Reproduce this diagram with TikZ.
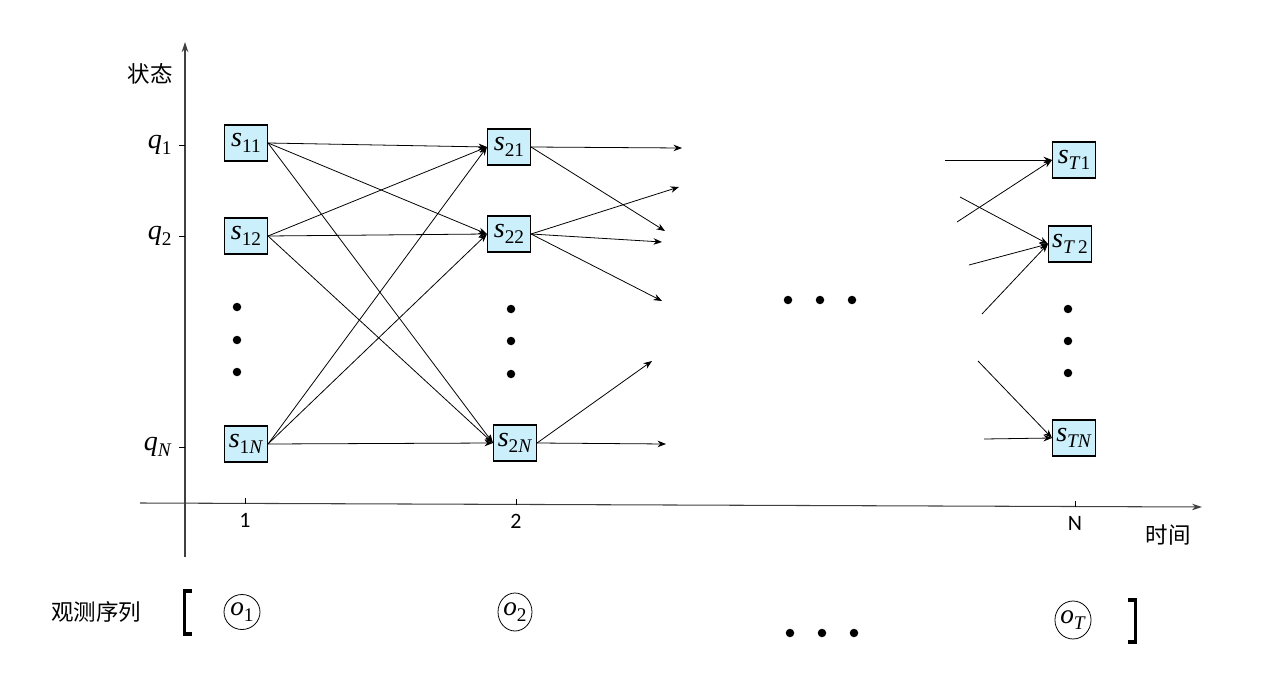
\documentclass[tikz,border=0pt]{standalone}
\usepackage{fontspec}
\newfontfamily\tms{Liberation Serif}
\newfontfamily\crl{Carlito}
\newfontfamily\cjk{Noto Sans CJK SC}
\usetikzlibrary{arrows.meta,shapes.geometric}
\newcommand{\sv}[2]{{\tms\itshape #1}{\tms\raisebox{-0.45ex}{\fontsize{11}{12}\selectfont #2}}}
\begin{document}
\begin{tikzpicture}[x=0.02cm,y=-0.02cm,
  st/.style={draw,fill=cyan!20,line width=0.6pt,minimum width=0.86cm,minimum height=0.72cm,inner sep=0pt,font=\tms\fontsize{16}{18}\selectfont},
  tr/.style={line width=0.45pt,-{Stealth[length=1.7mm,width=1.3mm]}},
  ax/.style={line width=0.6pt,draw=black!75,-{Stealth[length=2mm,width=1.3mm]}},
  dt/.style={circle,fill=black,inner sep=0pt,minimum size=0.17cm},
  obs/.style={ellipse,draw,line width=0.45pt,inner sep=0pt,minimum width=0.72cm,minimum height=0.70cm,font=\tms\fontsize{15.5}{17}\selectfont},
  lab/.style={font=\crl\fontsize{12.5}{14}\selectfont},
  cj/.style={font=\cjk\fontsize{12.8}{14}\selectfont},
  brk/.style={line width=1.8pt}]
\useasboundingbox (0,0) rectangle (1265,696);
% axes
\coordinate (ya0) at (185,557);
\coordinate (ya1) at (185,42);
\coordinate (xa0) at (140,503);
\coordinate (xa1) at (1202,507);
\draw[ax] (ya0) -- (ya1);
\draw[ax] (xa0) -- (xa1);
\node[cj] (zt) at (150,74) {状态};
\node[cj] (sj) at (1168,535) {时间};
% q ticks
\foreach \n/\y/\t in {q1/145/1,q2/236/2,qN/447/\textit{N}}{
  \coordinate (\n a) at (179,\y);
  \coordinate (\n b) at (185,\y);
  \draw[line width=0.5pt] (\n a) -- (\n b);
  \node[anchor=east,inner sep=0pt,font=\tms\fontsize{16}{18}\selectfont] (\n l) at (172,\y) {\sv{q}{\t}};
}
% t ticks
\foreach \n/\x/\t/\yy in {t1/245/1/504,t2/516/2/505,tN/1075/N/507}{
  \coordinate (\n a) at (\x,\yy);
  \coordinate (\n b) at (\x,\yy-6);
  \draw[line width=0.5pt] (\n a) -- (\n b);
  \node[lab] (\n l) at (\x,\yy+16) {\t};
}
% state boxes
\node[st] (s11) at (246,143) {\sv{s}{11}};
\node[st] (s12) at (246,236) {\sv{s}{12}};
\node[st] (s1N) at (246,444) {\sv{s}{1\textit{N}}};
\node[st] (s21) at (509,147) {\sv{s}{21}};
\node[st] (s22) at (509,234) {\sv{s}{22}};
\node[st] (s2N) at (515,443) {\sv{s}{2\textit{N}}};
\node[st] (sT1) at (1074,160) {\sv{s}{\textit{T}1}};
\node[st] (sT2) at (1070,244) {\sv{s}{\textit{T}\,2}};
\node[st] (sTN) at (1074,438) {\sv{s}{\textit{TN}}};
% dots
\foreach \i/\x/\y in {a1/237/307,a2/237/340,a3/237/372,b1/511/309,b2/511/341,b3/511/374,c1/1068/309,c2/1068/341,c3/1068/373,m1/788/300,m2/820/300,m3/852/300,o1/790/633,o2/822/633,o3/854/633}
  \node[dt] (d\i) at (\x,\y) {};
% full transitions 1 -> 2
\foreach \a in {s11,s12,s1N}
  \foreach \b in {s21,s22,s2N}
    \draw[tr] (\a.east) -- (\b.west);
% outgoing from column 2
\coordinate (e1) at (682,148);
\coordinate (e2) at (665,231);
\coordinate (e3) at (679,187);
\coordinate (e4) at (662,242);
\coordinate (e5) at (662,301);
\coordinate (e6) at (652,361);
\coordinate (e7) at (666,444);
\draw[tr] (s21.east) -- (e1);
\draw[tr] (s21.east) -- (e2);
\draw[tr] (s22.east) -- (e3);
\draw[tr] (s22.east) -- (e4);
\draw[tr] (s22.east) -- (e5);
\draw[tr] (s2N.east) -- (e6);
\draw[tr] (s2N.east) -- (e7);
% incoming to column T
\coordinate (f1) at (945,160);
\coordinate (f2) at (957,222);
\coordinate (f3) at (960,197);
\coordinate (f4) at (969,265);
\coordinate (f5) at (982,314);
\coordinate (f6) at (978,361);
\coordinate (f7) at (984,439);
\draw[tr] (f1) -- (sT1.west);
\draw[tr] (f2) -- (sT1.west);
\draw[tr] (f3) -- (sT2.west);
\draw[tr] (f4) -- (sT2.west);
\draw[tr] (f5) -- (sT2.west);
\draw[tr] (f6) -- (sTN.west);
\draw[tr] (f7) -- (sTN.west);
% observations
\node[cj] (gc) at (96,612) {观测序列};
\coordinate (lb1) at (192,591);
\coordinate (lb2) at (184.5,591);
\coordinate (lb3) at (184.5,634);
\coordinate (lb4) at (192,634);
\draw[brk] (lb1) -- (lb2) -- (lb3) -- (lb4);
\coordinate (rb1) at (1128,600);
\coordinate (rb2) at (1135.5,600);
\coordinate (rb3) at (1135.5,642);
\coordinate (rb4) at (1128,642);
\draw[brk] (rb1) -- (rb2) -- (rb3) -- (rb4);
\node[obs] (o1) at (242,612) {\sv{o}{1}};
\node[obs,minimum width=0.68cm,minimum height=0.76cm] (o2) at (515,612) {\sv{o}{2}};
\node[obs,minimum width=0.68cm,minimum height=0.76cm] (oT) at (1073,620) {\sv{o}{\textit{T}}};
\end{tikzpicture}
\end{document}
